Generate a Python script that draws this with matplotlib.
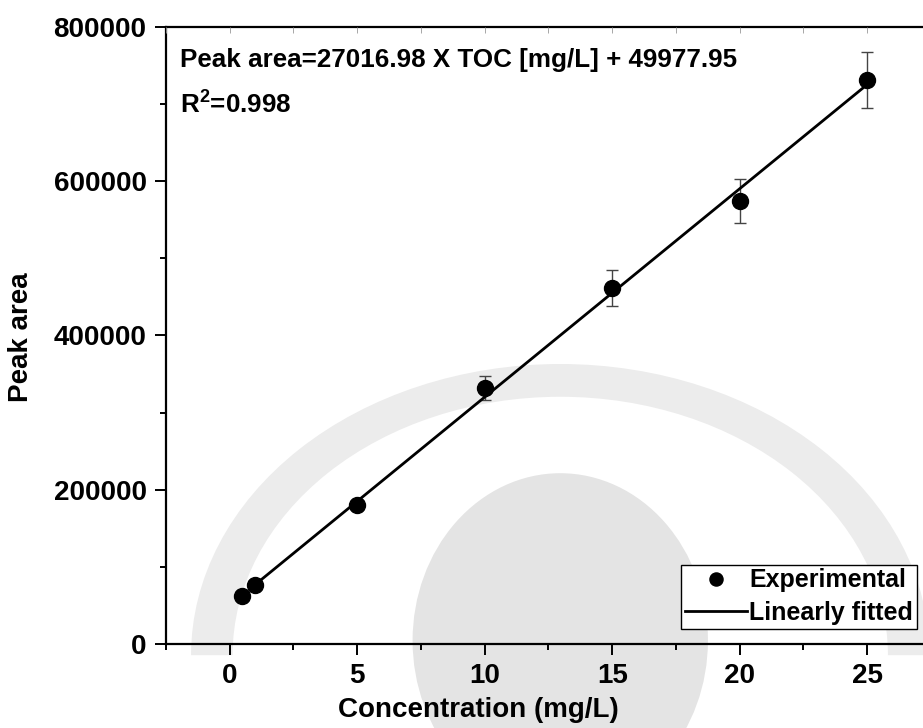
import matplotlib
matplotlib.use('Agg')
import matplotlib.pyplot as plt
from matplotlib.ticker import MultipleLocator
from matplotlib.patches import Ellipse, Wedge

# data
conc = [0.5, 1, 5, 10, 15, 20, 25]
peak_area = [62000, 76500, 180000, 332000, 461500, 574500, 731000]
peak_err = [1500, 2000, 6000, 15500, 23000, 29000, 36000]
slope = 27016.98
intercept = 49977.95
fit_x = [1, 25]

plt.rcParams['font.family'] = ['Liberation Sans', 'DejaVu Sans']
plt.rcParams['font.weight'] = 'bold'
plt.rcParams['mathtext.fontset'] = 'custom'
plt.rcParams['mathtext.rm'] = 'Liberation Sans:bold'
plt.rcParams['mathtext.it'] = 'Liberation Sans:bold'
plt.rcParams['mathtext.bf'] = 'Liberation Sans:bold'

fig = plt.figure(figsize=(9.23, 7.28), dpi=100)

# faint watermark behind the plot
wm = '#e4e4e4'
fig.patches.append(Ellipse((0.607, 0.12), 0.32, 0.46, transform=fig.transFigure,
                           facecolor=wm, edgecolor='none', zorder=-1))
fig.patches.append(Wedge((0.607, 0.10), 0.40, 0, 180, width=0.045,
                         transform=fig.transFigure, facecolor='#ececec',
                         edgecolor='none', zorder=-1))

ax = fig.add_axes([0.1798, 0.1154, 0.8288, 0.8475])
ax.set_facecolor('none')

ax.errorbar(conc, peak_area, yerr=peak_err, fmt='none', ecolor='#444444',
            elinewidth=1, capsize=4.3, capthick=1, zorder=2)
ax.plot(conc, peak_area, 'o', color='black', markersize=11.5,
        label='Experimental', zorder=3)
fit_y = [slope * x + intercept for x in fit_x]
ax.plot(fit_x, fit_y, '-', color='black', linewidth=2, label='Linearly fitted',
        zorder=4)

ax.set_xlim(-2.5, 27.5)
ax.set_ylim(0, 800000)
ax.xaxis.set_major_locator(MultipleLocator(5))
ax.xaxis.set_minor_locator(MultipleLocator(2.5))
ax.yaxis.set_major_locator(MultipleLocator(200000))
ax.yaxis.set_minor_locator(MultipleLocator(100000))
ax.ticklabel_format(style='plain', axis='y')

for s in ax.spines.values():
    s.set_linewidth(1.6)
ax.tick_params(which='major', direction='out', length=8, width=1.4,
               labelsize=20, pad=6)
ax.tick_params(which='minor', direction='out', length=4.5, width=1.4)

# top ticks point inward, faint
top = ax.twiny()
top.set_xlim(ax.get_xlim())
top.xaxis.set_major_locator(MultipleLocator(5))
top.xaxis.set_minor_locator(MultipleLocator(2.5))
top.tick_params(which='both', direction='in', length=4, width=0.6,
                colors='#999999', labeltop=False)
for s in top.spines.values():
    s.set_visible(False)

ax.set_xlabel('Concentration (mg/L)', fontsize=20, fontweight='bold')
ax.set_ylabel('Peak area', fontsize=20, fontweight='bold')
ax.xaxis.set_label_coords(0.408, -0.086)
ax.yaxis.set_label_coords(-0.172, 0.498)

ax.text(0.018, 0.946, 'Peak area=27016.98 X TOC [mg/L] + 49977.95',
        transform=ax.transAxes, fontsize=18.7, fontweight='bold', va='center')
ax.text(0.018, 0.873, 'R$^{2}$=0.998', transform=ax.transAxes,
        fontsize=18.7, fontweight='bold', va='center')

leg = ax.legend(loc='lower right', bbox_to_anchor=(917 / 923, 99 / 728),
                bbox_transform=fig.transFigure, fontsize=18, frameon=True,
                fancybox=False, edgecolor='black', handlelength=2.5,
                handletextpad=0.08, borderpad=0.16, labelspacing=0.34,
                borderaxespad=0, markerscale=0.82, framealpha=1)
leg.get_frame().set_linewidth(1)
for txt in leg.get_texts():
    txt.set_fontweight('bold')

fig.savefig('out.png', dpi=100)
